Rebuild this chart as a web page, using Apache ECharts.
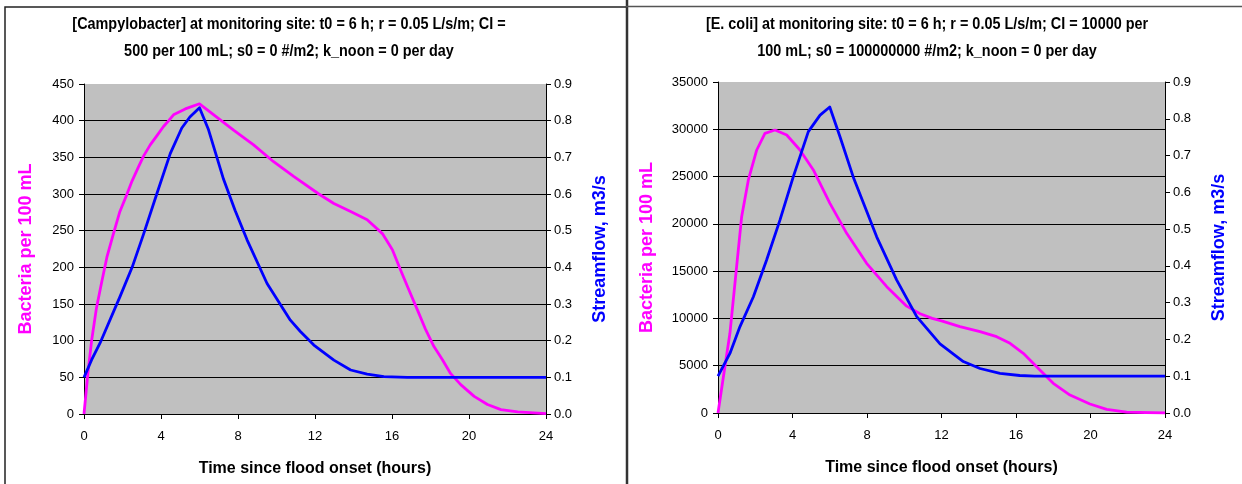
<!DOCTYPE html>
<html>
<head>
<meta charset="utf-8">
<script src="https://cdn.jsdelivr.net/npm/echarts@6/dist/echarts.min.js"></script>
<style>
  html, body { margin: 0; padding: 0; background: #fff; }
  #chart { width: 1242px; height: 484px; }
</style>
</head>
<body>
<div id="chart"></div>
<script>
// hours since flood onset, [campylobacter] per 100 mL
var campyT = [0, 0.2, 0.4, 0.65, 0.92, 1.2, 1.53, 1.85, 2.22, 2.5, 2.83, 3.1, 3.44, 3.8, 4.13, 4.4, 4.65, 5.26, 6, 7.08, 7.77, 8.81, 9.85, 10.89, 12.2, 12.98, 13.85, 14.71, 15.5, 16.02, 16.45, 16.88, 17.32, 17.75, 18.18, 18.62, 19.05, 19.57, 20.27, 20.96, 21.66, 22.53, 24];
var campyV = [0, 55, 101, 145, 180, 215, 246, 275, 299, 318, 337, 352, 367, 380, 392, 400, 408, 416, 423, 401, 387, 367, 344, 324, 300, 287, 276, 265, 246, 224, 196, 169, 142, 115, 92, 74, 55, 40, 24, 13, 6, 3, 0.5];

// streamflow for the left chart, m3/s
var flowLT = [0, 0.4, 0.83, 1.87, 2.5, 3.09, 3.78, 4.48, 5.08, 5.5, 6, 6.47, 7.25, 7.85, 8.47, 9.51, 10.72, 11.24, 11.94, 12.98, 13.85, 14.71, 15.58, 16.8, 24];
var flowLV = [0.1, 0.148, 0.193, 0.32, 0.4, 0.49, 0.6, 0.71, 0.78, 0.81, 0.835, 0.775, 0.64, 0.555, 0.475, 0.356, 0.256, 0.225, 0.188, 0.147, 0.12, 0.109, 0.102, 0.1, 0.1];

// [E. coli] per 100 mL
var ecoliT = [0, 0.29, 0.64, 1, 1.27, 1.63, 2.08, 2.52, 3.06, 3.69, 4.4, 5.12, 6.01, 6.91, 7.98, 9.06, 10.13, 10.85, 11.5, 12, 12.99, 14.07, 14.96, 15.68, 16.39, 17.11, 18, 18.9, 19.97, 20.87, 21.94, 24];
var ecoliV = [0, 3840, 8430, 15470, 20760, 24640, 27810, 29570, 29920, 29400, 27810, 25700, 22170, 19000, 15830, 13360, 11300, 10500, 10000, 9750, 9130, 8600, 8070, 7370, 6310, 4900, 3140, 1900, 950, 390, 100, 0];

// streamflow for the right chart, m3/s
var flowRT = [0, 0.64, 1.18, 1.9, 2.61, 3.33, 4.04, 4.85, 5.48, 6, 6.55, 7.26, 8.52, 9.59, 10.67, 11.92, 13.17, 14.07, 15.14, 16.2, 17, 24];
var flowRV = [0.1, 0.162, 0.235, 0.316, 0.416, 0.525, 0.642, 0.765, 0.81, 0.832, 0.751, 0.642, 0.479, 0.362, 0.262, 0.188, 0.14, 0.121, 0.108, 0.102, 0.1, 0.1];

var xTicks = [0, 4, 8, 12, 16, 20, 24];

var titleL = ['[Campylobacter] at monitoring site: t0 = 6 h; r = 0.05 L/s/m; CI =',
              '500 per 100 mL; s0 = 0 #/m2; k_noon = 0 per day'];
var titleR = ['[E. coli] at monitoring site: t0 = 6 h; r = 0.05 L/s/m; CI = 10000 per',
              '100 mL; s0 = 100000000 #/m2; k_noon = 0 per day'];

function pairs(t, v) {
  return t.map(function (x, i) { return [x, v[i]]; });
}

var sans = '"Liberation Sans", Arial, sans-serif';

function xAx(idx) {
  return {
    type: 'value', gridIndex: idx, min: 0, max: 24, interval: 4,
    name: 'Time since flood onset (hours)', nameLocation: 'middle', nameGap: 47,
    nameTextStyle: { color: '#000', fontFamily: sans, fontWeight: 'bold', fontSize: 16 },
    axisLine: { lineStyle: { color: '#000', width: 1 } },
    axisTick: { length: 5, lineStyle: { color: '#000' } },
    axisLabel: { color: '#000', fontFamily: sans, fontSize: 13, margin: 16,
      formatter: function (v) { return xTicks.indexOf(v) >= 0 ? String(v) : ''; } },
    splitLine: { show: false }
  };
}

function leftY(idx, max, interval, n) {
  var cols = [];
  for (var i = 0; i <= n; i++) cols.push(i === n ? 'rgba(0,0,0,0)' : '#000');
  return {
    type: 'value', gridIndex: idx, position: 'left', min: 0, max: max, interval: interval,
    name: 'Bacteria per 100 mL', nameLocation: 'middle', nameGap: idx === 0 ? 49 : 62, nameRotate: 90,
    nameTextStyle: { color: '#FF00FF', fontFamily: sans, fontWeight: 'bold', fontSize: 18 },
    axisLine: { show: true, lineStyle: { color: '#000', width: 1 } },
    axisTick: { show: true, length: 5, lineStyle: { color: '#000' } },
    axisLabel: { color: '#000', fontFamily: sans, fontSize: 13, margin: 10,
      formatter: function (v) { return String(v); } },
    splitLine: { show: true, lineStyle: { color: cols, width: 1 } }
  };
}

function rightY(idx) {
  return {
    type: 'value', gridIndex: idx, position: 'right', min: 0, max: 0.9, interval: 0.1,
    name: 'Streamflow, m3/s', nameLocation: 'middle', nameGap: 45, nameRotate: 90,
    nameTextStyle: { color: '#0000FF', fontFamily: sans, fontWeight: 'bold', fontSize: 18 },
    axisLine: { show: true, lineStyle: { color: '#000', width: 1 } },
    axisTick: { show: true, length: 5, lineStyle: { color: '#000' } },
    axisLabel: { color: '#000', fontFamily: sans, fontSize: 13, margin: 8,
      formatter: function (v) { return v.toFixed(1); } },
    splitLine: { show: false }
  };
}

function line(name, data, xi, yi, color) {
  return {
    name: name, type: 'line', xAxisIndex: xi, yAxisIndex: yi, data: data,
    showSymbol: false, smooth: false, lineStyle: { color: color, width: 2.8, join: 'round' },
    itemStyle: { color: color }, animation: false
  };
}

function titleText(str, cx, cy) {
  return {
    type: 'text', x: cx, y: cy, scaleX: 0.9,
    style: { text: str, x: 0, y: 0, align: 'center', verticalAlign: 'middle',
      font: 'bold 16px ' + sans, fill: '#000' }
  };
}

var chart = echarts.init(document.getElementById('chart'));
chart.setOption({
  animation: false,
  graphic: [
    { type: 'polyline', shape: { points: [[5, 500], [5, 7], [626, 7]] }, style: { stroke: '#222', lineWidth: 1.5, fill: null } },
    { type: 'line', shape: { x1: 627, y1: 0, x2: 627, y2: 484 }, style: { stroke: '#333', lineWidth: 2.5 } },
    { type: 'line', shape: { x1: 626, y1: 6.5, x2: 1242, y2: 6.5 }, style: { stroke: '#555', lineWidth: 1.5 } },
    titleText(titleL[0], 289, 25),
    titleText(titleL[1], 289, 52),
    titleText(titleR[0], 927, 25),
    titleText(titleR[1], 927, 52)
  ],
  grid: [
    { left: 84, top: 84, width: 462, height: 330, show: true, backgroundColor: '#C0C0C0', borderWidth: 0 },
    { left: 718, top: 82, width: 447, height: 331, show: true, backgroundColor: '#C0C0C0', borderWidth: 0 }
  ],
  xAxis: [xAx(0), xAx(1)],
  yAxis: [leftY(0, 450, 50, 9), rightY(0), leftY(1, 35000, 5000, 7), rightY(1)],
  series: [
    line('Bacteria', pairs(campyT, campyV), 0, 0, '#FF00FF'),
    line('Streamflow', pairs(flowLT, flowLV), 0, 1, '#0000FF'),
    line('Bacteria', pairs(ecoliT, ecoliV), 1, 2, '#FF00FF'),
    line('Streamflow', pairs(flowRT, flowRV), 1, 3, '#0000FF')
  ]
});
</script>
</body>
</html>
